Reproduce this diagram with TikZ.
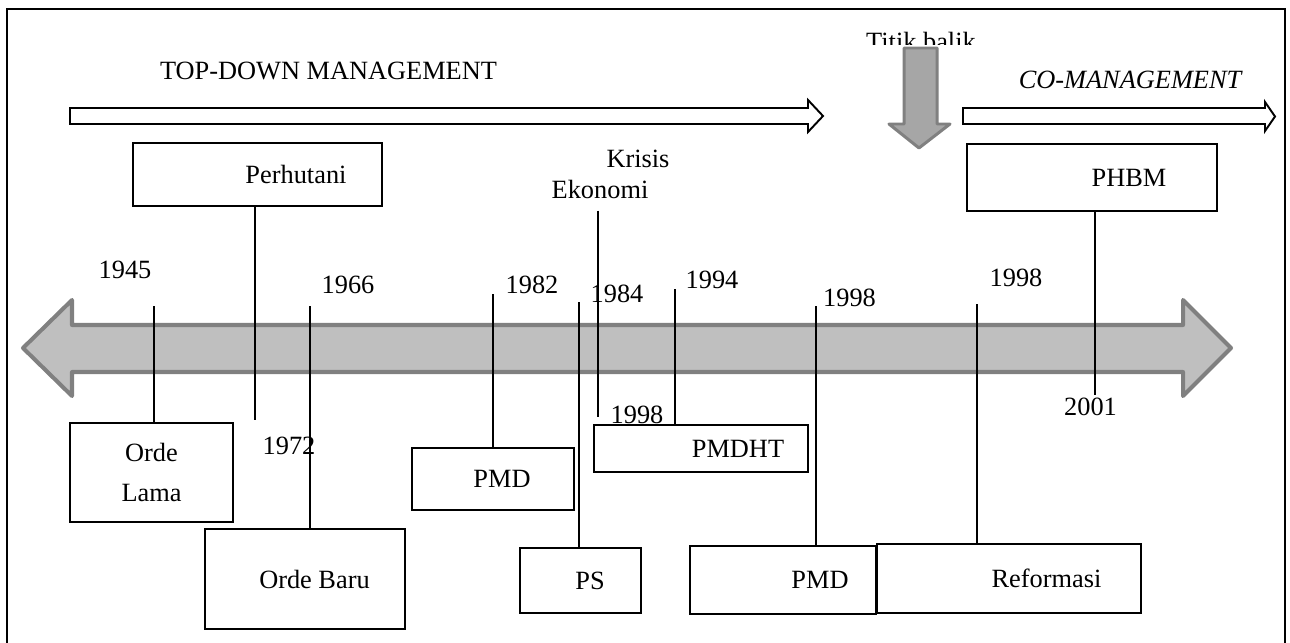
\documentclass[tikz,border=0pt]{standalone}
\usepackage{fontspec}
\setmainfont{Liberation Serif}
\begin{document}
\begin{tikzpicture}[x=0.02cm, y=-0.02cm,
  txt/.style={inner sep=0pt, font=\fontsize{15}{17}\selectfont},
  box/.style={draw, line width=1.1pt, inner sep=0pt, font=\fontsize{15}{17}\selectfont},
  tick/.style={line width=0.75pt},
  hollow/.style={draw, fill=white, line width=1.1pt},
  shade/.style={draw=black!50, line join=round}]
\useasboundingbox (0,0) rectangle (1290,642);
\draw[line width=1.2pt] (7,650) -- (7,9) -- (1285,9) -- (1285,650);

\node[txt] (topdown) at (328.5,70.5) {TOP-DOWN MANAGEMENT};
\node[txt] (comanage) at (1130,79.5) {\itshape CO-MANAGEMENT};
\begin{scope}
\clip (850,20) rectangle (1000,45);
\node[txt] (titik) at (921,41) {Titik balik};
\end{scope}

\draw[hollow] (70,108) -- (808,108) -- (808,100) -- (823,116) -- (808,132)
  -- (808,124) -- (70,124) -- cycle;
\draw[hollow] (963,108) -- (1265,108) -- (1265,102) -- (1275,116.5) -- (1265,131)
  -- (1265,124) -- (963,124) -- cycle;
\draw[shade, fill=black!35, line width=1.7pt] (904,48) -- (937,48) -- (937,124)
  -- (950,124) -- (919,148) -- (889,124) -- (904,124) -- cycle;

\draw[shade, fill=black!25, line width=2.3pt] (23,348) -- (72,300) -- (72,325)
  -- (1183,325) -- (1183,300) -- (1231,348) -- (1183,396) -- (1183,372)
  -- (72,372) -- (72,396) -- cycle;

\node[box, minimum width=4.98cm, minimum height=1.26cm] (perhutani) at (257.5,174.5) {\hspace{1.54cm}Perhutani};
\node[box, minimum width=5cm, minimum height=1.34cm] (phbm) at (1092,177.5) {\hspace{1.48cm}PHBM};
\node[box, minimum width=3.26cm, minimum height=1.98cm, align=center] (ordelama) at (151.5,472.5) {Orde\\[5.5pt]Lama};
\node[box, minimum width=4cm, minimum height=2cm] (ordebaru) at (305,579) {\hspace{0.38cm}Orde Baru};
\node[box, minimum width=3.24cm, minimum height=1.24cm] (pmda) at (493,479) {\hspace{0.36cm}PMD};
\node[box, minimum width=2.42cm, minimum height=1.3cm] (ps) at (580.5,580.5) {\hspace{0.38cm}PS};
\node[box, minimum width=4.28cm, minimum height=0.94cm] (pmdht) at (701,448.5) {\hspace{1.48cm}PMDHT};
\node[box, minimum width=3.72cm, minimum height=1.36cm] (pmdb) at (783,580) {\hspace{1.48cm}PMD};
\node[box, minimum width=5.28cm, minimum height=1.38cm] (reformasi) at (1009,578.5) {\hspace{1.5cm}Reformasi};

\node[txt] (krisis) at (638,159) {Krisis};
\node[txt] (ekonomi) at (600,189) {Ekonomi};

\node[txt] (y1945) at (125,269.5) {1945};
\node[txt] (y1966) at (348,285) {1966};
\node[txt] (y1972) at (289,445.5) {1972};
\node[txt] (y1982) at (532,285) {1982};
\node[txt] (y1984) at (617,294) {1984};
\node[txt] (y1994) at (712,280) {1994};
\node[txt] (y1998a) at (637,415) {1998};
\node[txt] (y1998b) at (849.5,298) {1998};
\node[txt] (y1998c) at (1016,277.5) {1998};
\node[txt] (y2001) at (1090.5,407) {2001};

\coordinate (t1945) at (154,306);
\coordinate (t1966) at (310,306);
\coordinate (t1982) at (493,294);
\coordinate (t1984) at (579,302);
\coordinate (t1994) at (675,289);
\coordinate (t1998b) at (816,306);
\coordinate (t1998c) at (977,304);
\coordinate (b1972) at (255,420);
\coordinate (b1998) at (598,417);
\coordinate (b2001) at (1095,395);

\draw[tick] (t1945) -- (t1945 |- ordelama.north);
\draw[tick] (t1966) -- (t1966 |- ordebaru.north);
\draw[tick] (t1982) -- (t1982 |- pmda.north);
\draw[tick] (t1984) -- (t1984 |- ps.north);
\draw[tick] (t1994) -- (t1994 |- pmdht.north);
\draw[tick] (t1998b) -- (t1998b |- pmdb.north);
\draw[tick] (t1998c) -- (t1998c |- reformasi.north);
\draw[tick] (b1972 |- perhutani.south) -- (b1972);
\draw[tick] (ekonomi.south -| b1998) ++(0,12) -- (b1998);
\draw[tick] (b2001 |- phbm.south) -- (b2001);
\end{tikzpicture}
\end{document}
